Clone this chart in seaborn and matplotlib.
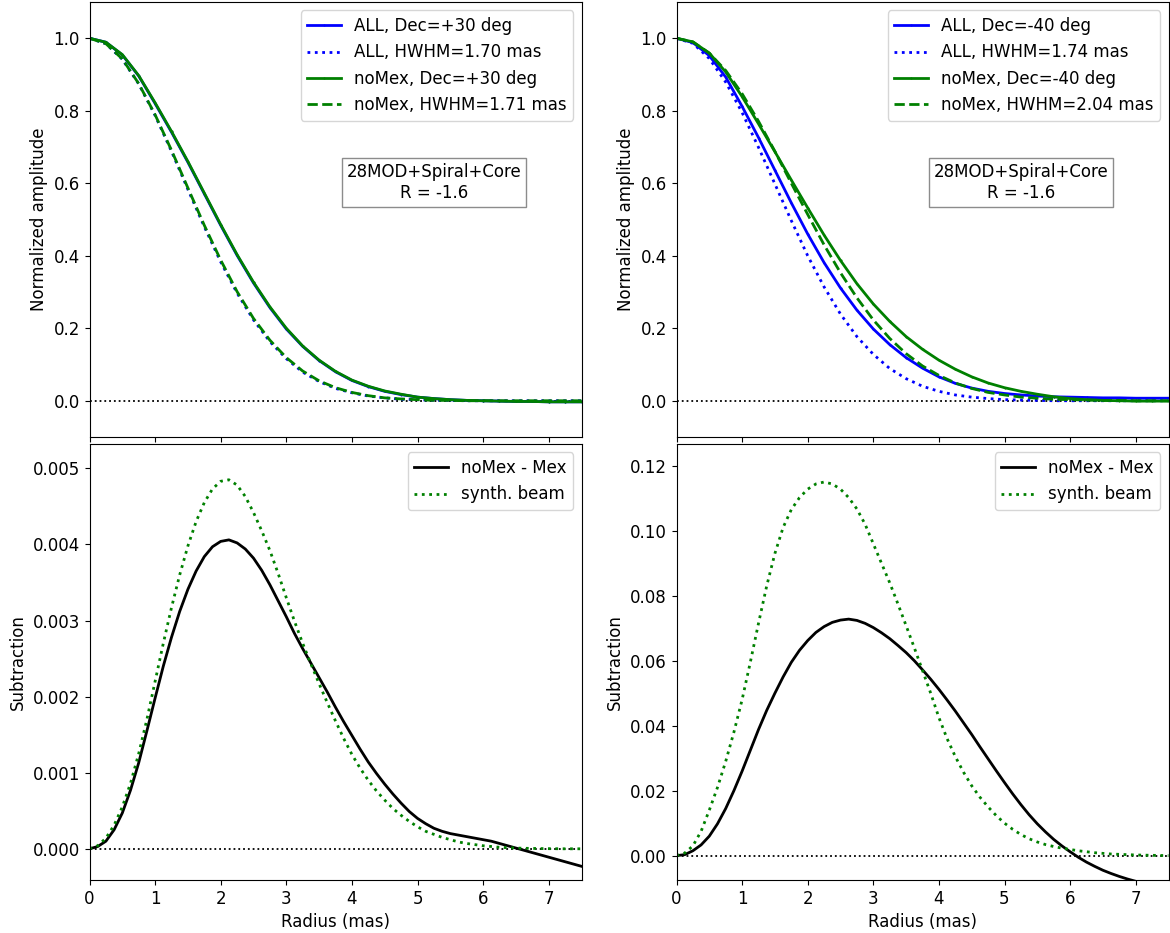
import numpy as np
import matplotlib
matplotlib.use("Agg")
import matplotlib.pyplot as plt
import seaborn as sns

# radius grids (mas)
radius = [0.0, 0.25, 0.5, 0.75, 1.0, 1.25, 1.5, 1.75, 2.0, 2.25, 2.5, 2.75, 3.0, 3.25,
          3.5, 3.75, 4.0, 4.25, 4.5, 4.75, 5.0, 5.25, 5.5, 5.75, 6.0, 6.25, 6.5, 6.75,
          7.0, 7.25, 7.5]
radius_fine = [0.0, 0.125, 0.25, 0.375, 0.5, 0.625, 0.75, 0.875, 1.0, 1.125, 1.25, 1.375,
               1.5, 1.625, 1.75, 1.875, 2.0, 2.125, 2.25, 2.375, 2.5, 2.625, 2.75, 2.875,
               3.0, 3.125, 3.25, 3.375, 3.5, 3.625, 3.75, 3.875, 4.0, 4.125, 4.25, 4.375,
               4.5, 4.625, 4.75, 4.875, 5.0, 5.125, 5.25, 5.375, 5.5, 5.625, 5.75, 5.875,
               6.0, 6.125, 6.25, 6.375, 6.5, 6.625, 6.75, 6.875, 7.0, 7.125, 7.25, 7.375,
               7.5]

# Dec=+30 deg, normalized amplitude
all_p30 = [1.0, 0.989, 0.954, 0.896, 0.820, 0.741, 0.658, 0.571, 0.484, 0.401, 0.325,
           0.257, 0.198, 0.150, 0.111, 0.080, 0.056, 0.039, 0.026, 0.017, 0.010, 0.006,
           0.003, 0.001, 0.0, -0.001, -0.002, -0.002, -0.003, -0.003, -0.003]
all_p30_fit = [1.0, 0.985, 0.942, 0.874, 0.787, 0.688, 0.583, 0.480, 0.383, 0.297, 0.223,
               0.163, 0.116, 0.079, 0.053, 0.034, 0.022, 0.013, 0.008, 0.004, 0.003, 0.001,
               0.001, 0.0, 0.0, 0.0, 0.0, 0.0, 0.0, 0.0, 0.0]
nomex_p30 = [1.0, 0.989, 0.955, 0.897, 0.822, 0.743, 0.660, 0.573, 0.486, 0.403, 0.327,
             0.259, 0.200, 0.151, 0.112, 0.081, 0.057, 0.040, 0.027, 0.018, 0.010, 0.006,
             0.003, 0.001, 0.0, -0.001, -0.002, -0.002, -0.003, -0.003, -0.003]
nomex_p30_fit = [1.0, 0.985, 0.943, 0.875, 0.789, 0.691, 0.587, 0.484, 0.388, 0.301, 0.227,
                 0.167, 0.119, 0.082, 0.055, 0.036, 0.023, 0.014, 0.008, 0.005, 0.003, 0.001,
                 0.001, 0.0, 0.0, 0.0, 0.0, 0.0, 0.0, 0.0, 0.0]

# Dec=-40 deg, normalized amplitude
all_m40 = [1.0, 0.988, 0.952, 0.893, 0.812, 0.726, 0.636, 0.546, 0.460, 0.381, 0.311,
           0.250, 0.198, 0.155, 0.119, 0.090, 0.066, 0.048, 0.035, 0.026, 0.020, 0.016,
           0.013, 0.011, 0.010, 0.009, 0.008, 0.008, 0.007, 0.007, 0.007]
all_m40_fit = [1.0, 0.986, 0.944, 0.879, 0.795, 0.699, 0.598, 0.497, 0.400, 0.314, 0.239,
               0.177, 0.128, 0.089, 0.061, 0.040, 0.026, 0.016, 0.010, 0.006, 0.003, 0.002,
               0.001, 0.0, 0.0, 0.0, 0.0, 0.0, 0.0, 0.0, 0.0]
nomex_m40 = [1.0, 0.990, 0.959, 0.907, 0.839, 0.764, 0.687, 0.609, 0.532, 0.457, 0.387,
             0.323, 0.267, 0.219, 0.177, 0.142, 0.112, 0.087, 0.066, 0.049, 0.036, 0.026,
             0.018, 0.011, 0.006, 0.003, 0.001, 0.0, -0.001, -0.001, -0.001]
nomex_m40_fit = [1.0, 0.990, 0.959, 0.911, 0.847, 0.771, 0.688, 0.600, 0.514, 0.430, 0.353,
                 0.284, 0.223, 0.172, 0.130, 0.096, 0.070, 0.049, 0.034, 0.023, 0.016, 0.010,
                 0.007, 0.004, 0.003, 0.002, 0.001, 0.001, 0.0, 0.0, 0.0]

# noMex - Mex and synthesized beam, Dec=+30 (units of 1e-3)
diff_p30 = [0.0, 0.03, 0.10, 0.25, 0.47, 0.77, 1.13, 1.55, 1.98, 2.40, 2.78, 3.12, 3.41,
            3.65, 3.84, 3.97, 4.04, 4.06, 4.02, 3.94, 3.82, 3.66, 3.47, 3.26, 3.05, 2.83,
            2.63, 2.44, 2.25, 2.06, 1.86, 1.67, 1.49, 1.31, 1.14, 0.99, 0.85, 0.72, 0.60,
            0.49, 0.40, 0.33, 0.27, 0.23, 0.20, 0.18, 0.16, 0.14, 0.12, 0.10, 0.07, 0.04,
            0.01, -0.02, -0.05, -0.08, -0.11, -0.14, -0.17, -0.20, -0.23]
beam_p30 = [0.0, 0.04, 0.14, 0.31, 0.55, 0.86, 1.25, 1.70, 2.20, 2.70, 3.17, 3.60, 3.98,
            4.30, 4.55, 4.73, 4.83, 4.85, 4.78, 4.63, 4.42, 4.18, 3.92, 3.62, 3.30, 2.99,
            2.70, 2.43, 2.17, 1.92, 1.68, 1.45, 1.24, 1.06, 0.90, 0.76, 0.64, 0.53, 0.44,
            0.36, 0.29, 0.23, 0.19, 0.15, 0.12, 0.09, 0.07, 0.055, 0.04, 0.03, 0.02, 0.015,
            0.01, 0.007, 0.005, 0.003, 0.002, 0.001, 0.0, 0.0, 0.0]

# noMex - Mex and synthesized beam, Dec=-40 (units of 1e-2)
diff_m40 = [0.0, 0.03, 0.15, 0.33, 0.60, 0.98, 1.45, 2.00, 2.60, 3.24, 3.88, 4.47, 5.00,
            5.50, 5.95, 6.32, 6.62, 6.87, 7.05, 7.18, 7.25, 7.28, 7.24, 7.15, 7.02, 6.86,
            6.68, 6.47, 6.25, 6.00, 5.72, 5.43, 5.12, 4.79, 4.45, 4.09, 3.73, 3.35, 2.98,
            2.61, 2.25, 1.90, 1.57, 1.26, 0.98, 0.73, 0.50, 0.30, 0.12, -0.05, -0.20,
            -0.33, -0.45, -0.55, -0.64, -0.72, -0.79, -0.85, -0.90, -0.94, -0.98]
beam_m40 = [0.0, 0.08, 0.30, 0.75, 1.40, 2.10, 2.90, 3.80, 4.80, 5.95, 7.15, 8.30, 9.30,
            10.10, 10.65, 11.02, 11.28, 11.44, 11.50, 11.44, 11.28, 11.02, 10.67, 10.20,
            9.60, 9.00, 8.40, 7.75, 7.08, 6.40, 5.70, 5.00, 4.25, 3.60, 3.05, 2.57, 2.15,
            1.80, 1.50, 1.23, 1.00, 0.81, 0.65, 0.52, 0.42, 0.34, 0.28, 0.23, 0.19, 0.15,
            0.12, 0.09, 0.07, 0.05, 0.04, 0.03, 0.02, 0.015, 0.01, 0.005, 0.0]

top_panels = [
    ("+30", all_p30, all_p30_fit, "1.70", nomex_p30, nomex_p30_fit, "1.71"),
    ("-40", all_m40, all_m40_fit, "1.74", nomex_m40, nomex_m40_fit, "2.04"),
]
bottom_panels = [
    (np.array(diff_p30) * 1e-3, np.array(beam_p30) * 1e-3, (-0.00041, 0.00532)),
    (np.array(diff_m40) * 1e-2, np.array(beam_m40) * 1e-2, (-0.0075, 0.1267)),
]

plt.rcParams["font.size"] = 12
fig = plt.figure(figsize=(11.7, 9.33), dpi=100)

W, H = 1170, 933
col_left = [89.5, 676.5]
ax_w = 492
top_rows = (2, 437)
bot_rows = (444, 880)


def make_axes(x0, y0, y1):
    return fig.add_axes([x0 / W, (H - y1) / H, ax_w / W, (y1 - y0) / H])


for j in range(2):
    dec, a, a_fit, a_hw, n, n_fit, n_hw = top_panels[j]
    ax = make_axes(col_left[j], *top_rows)
    ax.axhline(0, color="k", ls=":", lw=1.3)
    sns.lineplot(x=radius, y=a, ax=ax, color="b", lw=2, marker=".", markersize=3,
                 markeredgewidth=0, sort=False, label=f"ALL, Dec={dec} deg")
    sns.lineplot(x=radius, y=a_fit, ax=ax, color="b", lw=2, linestyle=":",
                 sort=False, label=f"ALL, HWHM={a_hw} mas")
    sns.lineplot(x=radius, y=n, ax=ax, color="g", lw=2, marker=".", markersize=3,
                 markeredgewidth=0, sort=False, label=f"noMex, Dec={dec} deg")
    sns.lineplot(x=radius, y=n_fit, ax=ax, color="g", lw=2, linestyle="--",
                 sort=False, label=f"noMex, HWHM={n_hw} mas")
    ax.set_xlim(0, 7.5)
    ax.set_ylim(-0.1, 1.1)
    ax.set_xticks(range(8))
    ax.set_xticklabels([])
    ax.set_ylabel("Normalized amplitude")
    ax.legend(loc="upper right", fontsize=12)
    ax.text(0.70, 0.585, "28MOD+Spiral+Core\nR = -1.6", transform=ax.transAxes,
            ha="center", va="center", multialignment="center", fontsize=12,
            bbox=dict(boxstyle="square,pad=0.3", fc="white", ec="0.55", lw=1))

    diff, beam, ylim = bottom_panels[j]
    ax = make_axes(col_left[j], *bot_rows)
    ax.axhline(0, color="k", ls=":", lw=1.3)
    sns.lineplot(x=radius_fine, y=diff, ax=ax, color="k", lw=2, sort=False,
                 label="noMex - Mex")
    sns.lineplot(x=radius_fine, y=beam, ax=ax, color="g", lw=2, linestyle=":",
                 sort=False, label="synth. beam")
    ax.set_xlim(0, 7.5)
    ax.set_ylim(*ylim)
    ax.set_xticks(range(8))
    ax.set_xlabel("Radius (mas)")
    ax.set_ylabel("Subtraction")
    ax.legend(loc="upper right", fontsize=12)

fig.savefig("out.png", dpi=100)
